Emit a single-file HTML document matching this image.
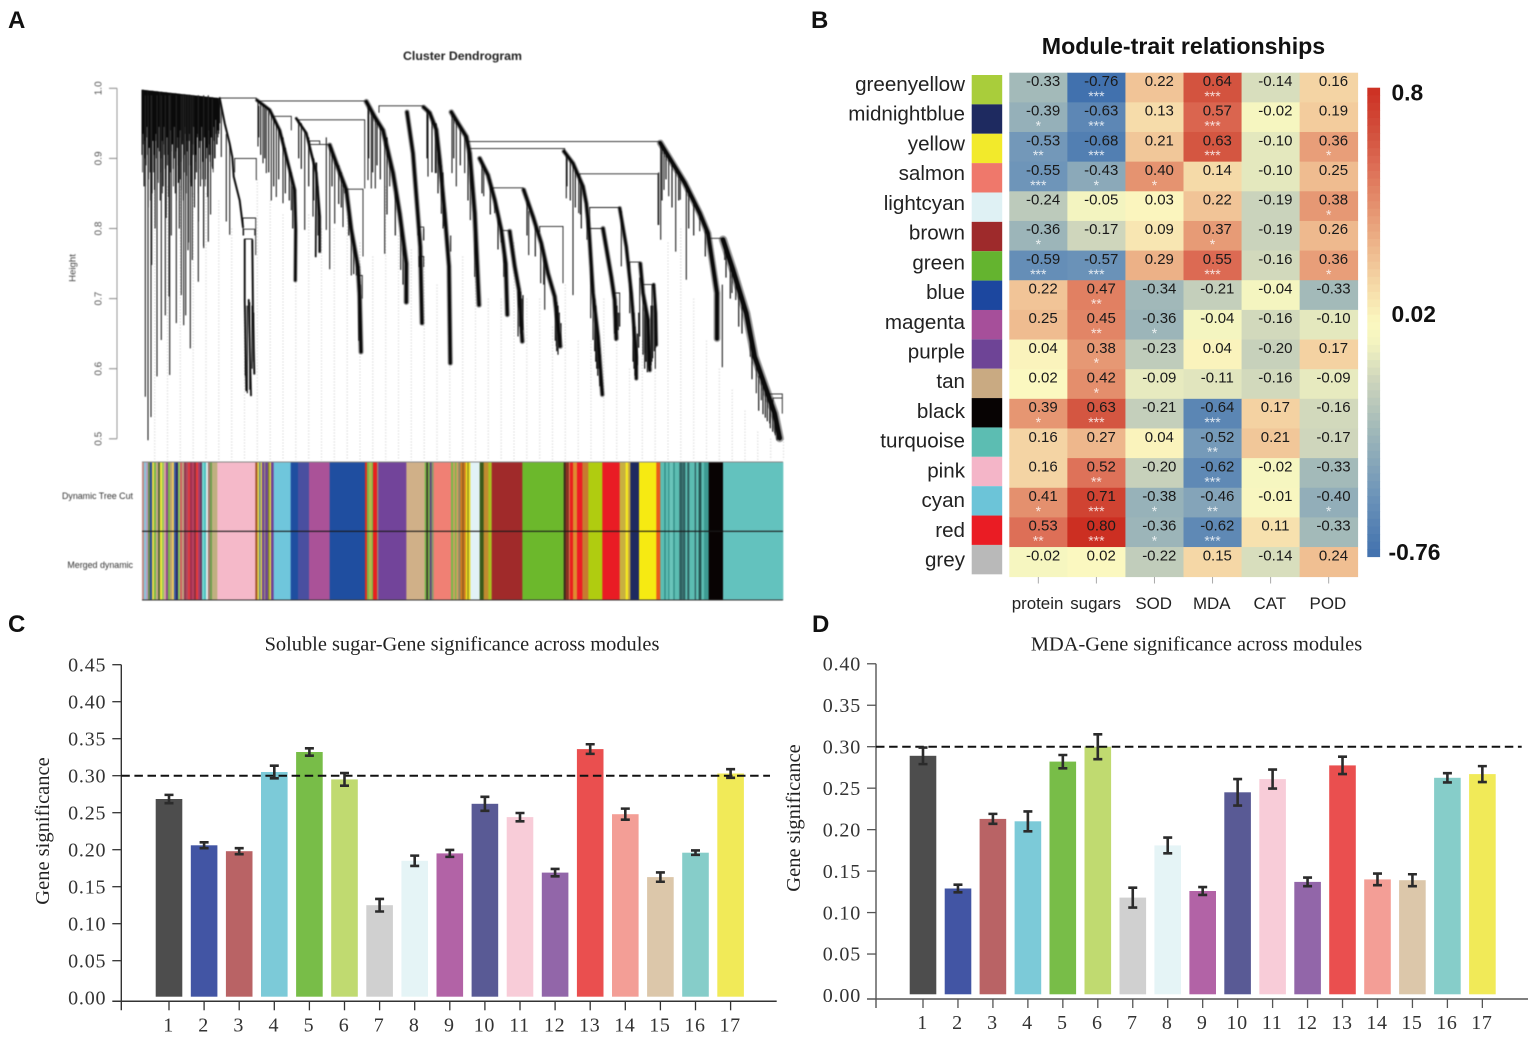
<!DOCTYPE html>
<html lang="en">
<head>
<meta charset="utf-8">
<title>WGCNA module figure</title>
<style>
html,body{margin:0;padding:0;background:#fff;}
svg{display:block;}
.sans{font-family:"Liberation Sans",Arial,sans-serif;}
.serif{font-family:"Liberation Serif","Times New Roman",serif;}
#panelA{filter:blur(0.4px);}
</style>
</head>
<body>
<svg id="fig" xmlns="http://www.w3.org/2000/svg" width="1535" height="1038" viewBox="0 0 1535 1038">
  <rect x="0" y="0" width="1535" height="1038" fill="#fff"/>
  <g class="sans" font-weight="700" font-size="24" fill="#111">
    <text x="8" y="28">A</text>
    <text x="811" y="28">B</text>
    <text x="8" y="632">C</text>
    <text x="812" y="632">D</text>
  </g>
  <g id="panelA"></g>
  <g id="panelB"></g>
  <g id="panelC"></g>
  <g id="panelD"></g>
</svg>
<script>
/* ---------- Panel A data: leaf index 0..1923, height in thousandths ---------- */
const dendroHeightTicks = ["0.5","0.6","0.7","0.8","0.9","1.0"];
const massTop = [998, 986];
const massBottoms = [905,935,860,925,890,945,830,915,880,940,850,925,905,800,935,870,915,945,840,900,925,860,945,885,815,930,905,870,940,790,920,885,945,850,910,930,865,800,940,895,920,840,905,945,875,925,780,935,890,860,920,945,830,905,880,935,810,925,860,945,895,775,930,870,915,845,940,905,820,930,885,945,900,955,920,940,935,950];
const massDeepBottoms = [880,920,900,860,930,905,870,925,840,910,935,880,855,925,900,930,865,910,880,935,850,920,905,870,930,890,845,925,880,910,935,860,900,925,840,915,890,930,870,855,925,900,880,935,850,910,890,925,865,930,845,905,920,870,895,930,850,915,885,925,870,905,935,860,900,925,880,920,895,930,905,880,925,900,935,920,930,940];
const strandWidths = [1.5,1.4,1.4,1.5,2.4,2,1.3,3,3.2,3,3,3.2,3,3,3,2.8,3,2.6,2.8,2.4,3.8,4.6];
const strandPoints = [
 [233,986,248,950,263,921,271,902,275,874,293,840,303,802],
 [308,784,308,698,313,569],
 [320,698,327,562],
 [331,783,333,679,337,593],
 [345,983,383,969,413,940,438,893,458,855,461,798,460,726],
 [463,957,493,936,508,907,523,879,533,817,533,767],
 [523,893,521,760],
 [563,919,583,893,613,855,628,798,648,745,653,703,657,624],
 [673,981,698,959,723,940,753,879,773,821,793,750,793,695],
 [795,966,813,907,828,817,835,774,840,665],
 [845,973,863,965,883,941,893,898,908,822,921,746,925,608],
 [928,966,948,950,973,931,983,907,998,822,1011,691],
 [1013,900,1038,876,1058,841,1078,798,1091,750,1096,677],
 [1103,796,1118,746,1131,712,1141,639],
 [1145,855,1173,817,1198,779,1218,736,1238,703,1255,632],
 [1266,910,1293,893,1323,860,1333,836,1341,798,1353,708,1368,646,1381,563],
 [1383,800,1408,731,1418,698,1423,643],
 [1433,829,1453,774,1468,708,1483,617,1483,586],
 [1495,750,1503,708,1518,670,1523,598],
 [1535,720,1541,679,1543,634],
 [1555,922,1583,900,1628,865,1673,822,1698,793,1713,746,1725,708,1725,643],
 [1743,784,1773,741,1813,679,1838,617,1873,570,1898,536,1913,501]
];
const dripLeaves = [10,18,27,29,45,58,70,83,81,103,118,125,131,145,169,151,185,199,138,211,238,263,253,348,363,373,388,403,423,448,488,513,563,553,578,603,628,643,678,688,700,728,743,776,845,858,883,898,903,880,905,926,930,943,968,985,998,1025,1058,1085,1128,1160,1196,1208,1243,1273,1293,1310,1335,1346,1353,1375,1438,1463,1493,1508,1518,1550,1556,1566,1580,1601,1615,1633,1673,1741,1748,1770,1781,1825,1843,1858,1883,1898,1908,1315,1530,1540];
const dripTops = [990,990,990,990,990,990,990,990,990,990,990,990,990,990,990,990,990,990,990,985,975,921,935,980,975,970,962,950,930,880,940,900,919,930,900,870,790,760,975,965,955,935,900,815,800,970,950,890,880,950,850,790,965,955,935,905,820,885,840,770,715,825,780,760,690,905,893,870,830,760,710,620,825,730,730,700,660,880,920,912,900,885,875,860,822,720,770,745,730,645,610,590,555,535,510,870,720,700];
const dripBottoms = [560,498,531,748,589,641,676,591,703,665,705,662,676,629,724,755,772,781,769,888,902,791,810,917,893,879,840,845,836,826,798,817,742,798,807,802,733,733,869,857,857,764,860,741,783,874,879,821,800,879,803,767,879,860,879,812,731,846,822,731,646,762,722,684,632,843,705,822,784,672,641,584,746,679,646,622,603,805,784,855,846,767,841,727,796,602,755,708,698,617,565,555,522,508,503,820,610,600];
const fuzzLeaves = [1133,1136,1139,1143,1240,1244,1248,1252,1257,1358,1361,1364,1367,1370,1373,1418,1421,1425,1429,1433,1473,1476,1479,1486,1490,1503,1508,1512,1516,1520,1527,1532,1537,1541,1863,1870,1876,1885,1892,1900,1905,1912,310,316,323,330,335,650,655,350,356,368,380,395,410,430,442,452,470,478,500,515,528,570,590,598,620,635,680,692,705,715,735,760,783,855,870,888,935,955,978,1020,1045,1068,1155,1180,1205,1275,1285,1300,1318,1560,1572,1590,1610,1640,1655,1690,1752,1765,1790,1800,1830,1850];
const fuzzTops = [715,710,700,705,700,695,690,680,665,700,690,670,650,640,630,700,695,690,680,680,690,680,660,650,680,705,690,680,675,670,690,690,700,690,580,570,565,555,548,535,525,515,690,690,695,690,680,730,720,975,975,972,968,955,942,915,885,860,955,950,930,900,860,915,890,880,835,780,978,965,955,945,930,860,790,970,960,930,960,945,925,895,870,820,845,810,770,905,898,885,865,918,910,895,880,855,840,800,770,750,715,695,630,590];
const fuzzBottoms = [660,650,645,655,640,625,620,630,635,625,610,600,590,600,575,650,640,645,655,660,610,600,590,605,630,620,600,610,595,600,605,615,625,630,535,530,525,515,510,505,498,500,590,565,570,600,610,640,630,930,905,900,880,860,870,850,840,800,900,885,860,840,790,860,835,830,790,735,900,880,890,870,820,790,720,900,880,850,900,890,840,850,820,770,790,760,720,860,840,830,800,840,870,830,840,800,790,760,730,700,660,650,585,540];
const mergeLeft = [233,355,711,468,608,278,396,503,503,303,308,305,648,828,831,978,983,1313,1343,1343,1053,1193,1078,1698,1463,1503,1883,1893,1418];
const mergeRight = [343,673,843,668,663,343,448,563,533,341,331,338,661,845,845,1555,1268,1548,1433,1383,1143,1263,1103,1743,1493,1535,1921,1921,1433];
const mergeHeights = [986,982,975,955,856,900,960,920,925,815,785,799,733,802,760,924,914,878,830,800,858,803,797,786,752,720,564,558,708];
const mergeLeftBottoms = [986,975,965,950,850,880,950,912,920,790,784,790,725,790,745,918,905,865,790,780,850,795,780,780,740,705,555,550,690];
const mergeRightBottoms = [984,981,973,857,760,869,940,919,920,762,783,790,700,783,745,922,910,805,829,800,855,722,796,784,750,720,536,540,680];
const guideTops = [870,860,860,850,850,840,800,760,870,840,820,800,820,800,800,820,780,760,860,790,770,760,720,740,760,780,700,700,780,700,700,660,720,640,640,700,640,600,640,720,780,800,700,640,600,570,540,510,500,500];
const segmentColors = ["#c08a85","#8ac6dc","#b79fc0","#6a8a4a","#2a4a9a","#e8d84a","#7ab84a","#c9a98a","#5a6a3a","#f0e83a","#9ac85a","#d8a0a0","#8a4a8a","#78b84a","#c0a070","#e8c860","#3a5aa0","#2a2a6a","#8ac860","#d06060","#c0a080","#903a50","#b04a60","#e03a40","#a03050","#b84060","#903040","#e83a3a","#a84070","#6a3a60","#70d8d0","#50c0c0","#e0e8e8","#a07a70","#70a050","#c0b080",
 "#f5b9c9",
 "#a0522d","#e8d84a","#6a8a8a","#e8d84a","#6e4496","#9a8a7a","#6e4496","#8a8a2a","#e8d84a","#6e4496",
 "#6fc6dc","#1f4ea0","#4a4fa0","#aa5298","#1f4ea0",
 "#e0301e","#7ab84a","#b8b84a","#7ab84a","#e8201e","#9a8a7a",
 "#72449a","#d0b088",
 "#7ab84a","#3a3a2a","#7ab84a","#5a4a7a","#8a9a6a",
 "#f08074",
 "#7ab84a","#c9a060","#7ab84a","#d0a060","#8a8a6a","#d07a20","#8a5a20","#d07a20","#e8d820","#4a4a1a","#e8d820",
 "#e2f2f6","#3a5a1a","#c08a30","#a8c020",
 "#a02a2a","#6cb82c",
 "#3a2a1a","#8a3020","#e0a070","#e8201e","#e08a30","#ee1c24","#c87a30",
 "#b0cc10","#e91c24",
 "#c8b040","#f6ea20","#c8a840",
 "#1e2a60","#f6ea12","#ea5a1c",
 "#5cbdb2","#2f8a84","#5cbdb2","#2f8a84","#6ac4ba","#2f8a84","#5cbdb2","#2e5f60","#3d7573","#2e5f60","#5cbdb2","#2e5f60","#5cbdb2","#2e5f60","#5cbdb2","#23524f","#5cbdb2","#3d9a92",
 "#080303","#63c2be"];
const segmentLeaves = [6,6,6,6,6,6,6,6,6,6,6,6,6,6,6,6,6,6,6,6,6,6,6,6,6,6,6,6,6,6,6,6,6,6,6,16,
 114,
 6,5,5,4,6,4,8,5,4,8,
 51,22,33,62,106,
 6,6,8,4,12,4,
 84,55,
 5,5,5,6,6,
 52,
 6,6,4,6,6,6,4,6,6,2,6,
 28,12,14,10,
 92,124,
 6,10,2,10,12,16,18,
 42,52,
 18,7,7,
 26,52,12,
 12,4,8,3,12,4,14,8,4,6,6,6,16,4,8,8,8,14,
 43,180];

/* ---------- Panel B data ---------- */
const moduleNames = ["greenyellow","midnightblue","yellow","salmon","lightcyan","brown","green","blue","magenta","purple","tan","black","turquoise","pink","cyan","red","grey"];
const traitNames = ["protein","sugars","SOD","MDA","CAT","POD"];
const moduleSwatches = ["#a9cd3b","#1e2a60","#f2ea2b","#ef786b","#dff1f4","#9e2a2b","#64b42f","#1c479f","#a64f9a","#6e4496","#c9aa82","#070303","#5cbdb2","#f4b5c8","#6cc4d8","#ea1c24","#b9b9b9"];
const correlations = [
 [-0.33,-0.76,0.22,0.64,-0.14,0.16],
 [-0.39,-0.63,0.13,0.57,-0.02,0.19],
 [-0.53,-0.68,0.21,0.63,-0.10,0.36],
 [-0.55,-0.43,0.40,0.14,-0.10,0.25],
 [-0.24,-0.05,0.03,0.22,-0.19,0.38],
 [-0.36,-0.17,0.09,0.37,-0.19,0.26],
 [-0.59,-0.57,0.29,0.55,-0.16,0.36],
 [0.22,0.47,-0.34,-0.21,-0.04,-0.33],
 [0.25,0.45,-0.36,-0.04,-0.16,-0.10],
 [0.04,0.38,-0.23,0.04,-0.20,0.17],
 [0.02,0.42,-0.09,-0.11,-0.16,-0.09],
 [0.39,0.63,-0.21,-0.64,0.17,-0.16],
 [0.16,0.27,0.04,-0.52,0.21,-0.17],
 [0.16,0.52,-0.20,-0.62,-0.02,-0.33],
 [0.41,0.71,-0.38,-0.46,-0.01,-0.40],
 [0.53,0.80,-0.36,-0.62,0.11,-0.33],
 [-0.02,0.02,-0.22,0.15,-0.14,0.24]
];
const significance = [
 ["","***","","***","",""],
 ["*","***","","***","",""],
 ["**","***","","***","","*"],
 ["***","*","*","","",""],
 ["","","","","","*"],
 ["*","","","*","",""],
 ["***","***","","***","","*"],
 ["","**","","","",""],
 ["","**","*","","",""],
 ["","*","","","",""],
 ["","*","","","",""],
 ["*","***","","***","",""],
 ["","","","**","",""],
 ["","**","","***","",""],
 ["*","***","*","**","","*"],
 ["**","***","*","***","",""],
 ["","","","","",""]
];
const heatStopValues = [-0.76,-0.55,-0.33,-0.17,-0.05,0.02,0.15,0.25,0.40,0.55,0.64,0.80];
const heatStopColors = ["#4171ae","#6e95b9","#a3bab9","#cfd6bc","#f3f4c0","#fbf8c0","#f5d7a6","#efbc90","#e59370","#dc6a53","#d3533f","#cc2f22"];
const legendLabels = ["0.8","0.02","-0.76"];

/* ---------- Panels C and D data ---------- */
const moduleNumbers = ["1","2","3","4","5","6","7","8","9","10","11","12","13","14","15","16","17"];
const sugarValues = [0.2685,0.206,0.198,0.305,0.332,0.295,0.125,0.185,0.195,0.262,0.244,0.169,0.336,0.248,0.163,0.196,0.303];
const sugarErrors = [0.0056,0.004,0.004,0.0085,0.005,0.0085,0.0085,0.007,0.0047,0.0095,0.0056,0.005,0.0065,0.0075,0.0063,0.003,0.0058];
const sugarTicks = ["0.00","0.05","0.10","0.15","0.20","0.25","0.30","0.35","0.40","0.45"];
const mdaValues = [0.289,0.129,0.213,0.21,0.282,0.30,0.118,0.181,0.126,0.245,0.261,0.137,0.2775,0.14,0.139,0.2625,0.267];
const mdaErrors = [0.01,0.0046,0.006,0.012,0.008,0.015,0.012,0.0095,0.0047,0.016,0.0115,0.0052,0.0105,0.007,0.0072,0.0056,0.0096];
const mdaTicks = ["0.00","0.05","0.10","0.15","0.20","0.25","0.30","0.35","0.40"];
const threshold = 0.30;
const barColors = ["#4d4d4d","#4255a4","#b96365","#7ccad8","#78bd48","#c0da70","#d0d0d0","#e5f4f6","#b263a6","#595a95","#f8ccd8","#9266a9","#ea4f4f","#f39e96","#dcc7aa","#86cdc9","#f1ea58"];

/* ---------- helpers ---------- */
const NS = "http://www.w3.org/2000/svg";
function mk(parent, tag, attrs, txt) {
  const el = document.createElementNS(NS, tag);
  for (const k in attrs) el.setAttribute(k, attrs[k]);
  if (txt !== undefined) el.textContent = txt;
  parent.appendChild(el);
  return el;
}

/* ---------- Panel A ---------- */
(function () {
  const g = document.getElementById("panelA");
  const X = leaf => 142 + leaf / 3;
  const Y = m => 88.3 + (1000 - m) * 0.701;

  const title = mk(g, "text", {x: 462.5, y: 60, "text-anchor": "middle", "font-size": 12.3, "font-weight": 700, class: "sans", fill: "#222"}, "Cluster Dendrogram");
  
  

  const axis = mk(g, "line", {x1: 117, x2: 117, y1: Y(1000), y2: Y(500), stroke: "#999", "stroke-width": 1});
  
  
  dendroHeightTicks.forEach(t => {
    const m = parseFloat(t) * 1000;
    const tick = mk(g, "line", {x1: 109, x2: 117, y1: Y(m), y2: Y(m), stroke: "#888", "stroke-width": 1});
    
    
    const lab = mk(g, "text", {x: 0, y: 0, transform: `translate(101.5 ${Y(m)}) rotate(-90)`, "text-anchor": "middle", "font-size": 10, class: "sans", fill: "#555"}, t);
    
    
  });
  const hl = mk(g, "text", {x: 0, y: 0, transform: "translate(75.5 268) rotate(-90)", "text-anchor": "middle", "font-size": 9.6, class: "sans", fill: "#444"}, "Height");
  
  

  let d = "";
  guideTops.forEach((m, i) => {
    const x = X(38 + 38.5 * i);
    d += `M${x.toFixed(1)} ${Y(m).toFixed(1)}V460`;
  });
  const guides = mk(g, "path", {d: d, stroke: "#d4d4d4", "stroke-width": 1.3, "stroke-dasharray": "1 2", fill: "none"});
  
  

  d = "";
  massDeepBottoms.forEach((m, i) => {
    const f = (i + 0.5) / massDeepBottoms.length;
    const leaf = f * 233;
    const top = massTop[0] + (massTop[1] - massTop[0]) * f;
    d += `M${X(leaf).toFixed(1)} ${Y(top).toFixed(1)}V${Y(m).toFixed(1)}`;
  });
  const massDeep = mk(g, "path", {d: d, stroke: "#2a2a2a", "stroke-width": 0.8, fill: "none"});
  
  

  d = "";
  massBottoms.forEach((m, i) => {
    const f = i / (massBottoms.length - 1);
    const leaf = f * 233;
    const top = massTop[0] + (massTop[1] - massTop[0]) * f;
    d += `M${X(leaf).toFixed(1)} ${Y(top).toFixed(1)}V${Y(m).toFixed(1)}`;
  });
  const mass = mk(g, "path", {d: d, stroke: "#0a0a0a", "stroke-width": 1, fill: "none"});
  
  

  d = "";
  dripLeaves.forEach((leaf, i) => {
    d += `M${X(leaf).toFixed(1)} ${Y(dripTops[i]).toFixed(1)}V${Y(dripBottoms[i]).toFixed(1)}`;
  });
  const drips = mk(g, "path", {d: d, stroke: "#222", "stroke-width": 1.1, fill: "none"});
  
  

  d = "";
  fuzzLeaves.forEach((leaf, i) => {
    d += `M${X(leaf).toFixed(1)} ${Y(fuzzTops[i]).toFixed(1)}V${Y(fuzzBottoms[i]).toFixed(1)}`;
  });
  const fuzz = mk(g, "path", {d: d, stroke: "#1a1a1a", "stroke-width": 1.2, fill: "none"});
  
  

  d = "";
  mergeLeft.forEach((l, i) => {
    d += `M${X(l).toFixed(1)} ${Y(mergeLeftBottoms[i]).toFixed(1)}V${Y(mergeHeights[i]).toFixed(1)}H${X(mergeRight[i]).toFixed(1)}V${Y(mergeRightBottoms[i]).toFixed(1)}`;
  });
  const merges = mk(g, "path", {d: d, stroke: "#222", "stroke-width": 0.9, fill: "none"});
  
  

  strandPoints.forEach((pts, i) => {
    let s = "";
    for (let k = 0; k < pts.length; k += 2) s += (k ? "L" : "M") + X(pts[k]).toFixed(1) + " " + Y(pts[k + 1]).toFixed(1);
    const halo = mk(g, "path", {d: s, stroke: "#333", "stroke-opacity": 0.5, "stroke-width": strandWidths[i] * 1.8, fill: "none", "stroke-linejoin": "round", "stroke-linecap": "round"});
    
    
    const st = mk(g, "path", {d: s, stroke: "#0a0a0a", "stroke-width": strandWidths[i], fill: "none", "stroke-linejoin": "round", "stroke-linecap": "round"});
    
    
  });

  const bars = mk(g, "g", {});
  
  
  let total = 0;
  segmentLeaves.forEach(w => { total += w; });
  const scale = 1923 / total;
  let cum = 0;
  segmentLeaves.forEach((w, i) => {
    const seg = mk(bars, "rect", {x: X(cum * scale).toFixed(2), y: 462, width: (w * scale / 3 + 0.3).toFixed(2), height: 138, fill: segmentColors[i]});
    
    
    cum += w;
  });
  const topLine = mk(g, "line", {x1: 142, x2: 783, y1: 462, y2: 462, stroke: "#888", "stroke-width": 1});
  
  
  const midLine = mk(g, "line", {x1: 142, x2: 783, y1: 531.3, y2: 531.3, stroke: "#1a1a1a", "stroke-width": 1.2});
  
  
  const botLine = mk(g, "line", {x1: 142, x2: 783, y1: 600, y2: 600, stroke: "#333", "stroke-width": 1});
  
  
  const l1 = mk(g, "text", {x: 133, y: 499, "text-anchor": "end", "font-size": 8.9, class: "sans", fill: "#333"}, "Dynamic Tree Cut");
  
  
  const l2 = mk(g, "text", {x: 133, y: 568, "text-anchor": "end", "font-size": 8.9, class: "sans", fill: "#333"}, "Merged dynamic");
  
  
})();

/* ---------- Panel B ---------- */
function heatColor(v) {
  const vs = heatStopValues;
  if (v <= vs[0]) return heatStopColors[0];
  for (let i = 1; i < vs.length; i++) {
    if (v <= vs[i]) {
      const f = (v - vs[i - 1]) / (vs[i] - vs[i - 1]);
      const a = parseInt(heatStopColors[i - 1].slice(1), 16), b = parseInt(heatStopColors[i].slice(1), 16);
      const c = s => Math.round(((a >> s) & 255) + (((b >> s) & 255) - ((a >> s) & 255)) * f);
      return `rgb(${c(16)},${c(8)},${c(0)})`;
    }
  }
  return heatStopColors[heatStopColors.length - 1];
}
(function () {
  const g = document.getElementById("panelB");
  const cellW = 348.4 / traitNames.length, cellH = 504 / moduleNames.length;
  const X = c => 1009.3 + c * cellW;
  const Y = r => 72.7 + r * cellH;

  const title = mk(g, "text", {x: 1183.5, y: 54, "text-anchor": "middle", "font-size": 23.2, "font-weight": 700, class: "sans", fill: "#111"}, "Module-trait relationships");
  
  

  moduleNames.forEach((name, r) => {
    const sw = mk(g, "rect", {x: 971.7, y: 75 + r * 29.37, width: 30.5, height: 29.4, fill: moduleSwatches[r]});
    
    
    const lab = mk(g, "text", {x: 965, y: (91 + r * 29.72).toFixed(1), "text-anchor": "end", "font-size": 20.6, class: "sans", fill: "#222"}, name);
    
    
  });

  correlations.forEach((row, r) => {
    row.forEach((v, c) => {
      const cell = mk(g, "rect", {x: X(c).toFixed(2), y: Y(r).toFixed(2), width: (cellW + 0.4).toFixed(2), height: (cellH + 0.4).toFixed(2), fill: heatColor(v)});
      
      
    });
  });
  correlations.forEach((row, r) => {
    row.forEach((v, c) => {
      const t = mk(g, "text", {x: (X(c) + cellW / 2 + 4.8).toFixed(1), y: (Y(r) + 13.3).toFixed(1), "text-anchor": "middle", "font-size": 15, class: "sans", fill: "#1a1a1a"}, v.toFixed(2));
      
      
      const stars = significance[r][c];
      if (stars) {
        const s = mk(g, "text", {x: (X(c) + cellW / 2).toFixed(1), y: (Y(r) + 28.2).toFixed(1), "text-anchor": "middle", "font-size": 14, class: "sans", fill: "#fff", "fill-opacity": 0.8}, stars);
        
        
      }
    });
  });

  traitNames.forEach((name, c) => {
    const cx = X(c) + cellW / 2;
    const tick = mk(g, "line", {x1: cx, x2: cx, y1: 577, y2: 583.5, stroke: "#aaa", "stroke-width": 1});
    
    
    const lab = mk(g, "text", {x: cx - 0.8, y: 609, "text-anchor": "middle", "font-size": 16.9, class: "sans", fill: "#222"}, name);
    
    
  });

  const vMin = -0.76, vMax = 0.8, barTop = 87.7, barBottom = 556.7, steps = 62;
  const ramp = mk(g, "g", {});
  
  
  for (let i = 0; i < steps; i++) {
    const v = vMax - (vMax - vMin) * (i + 0.5) / steps;
    const h = (barBottom - barTop) / steps;
    const st = mk(ramp, "rect", {x: 1367.3, y: (barTop + i * h).toFixed(2), width: 12.8, height: (h + 0.4).toFixed(2), fill: heatColor(v)});
    
    
  }
  const lx = [1391.5, 1391.5, 1388.5];
  const ly = [100.5, 322, 560];
  legendLabels.forEach((t, i) => {
    const lab = mk(g, "text", {x: lx[i], y: ly[i], "font-size": 22.8, "font-weight": 700, class: "sans", fill: "#111"}, t);
    
    
  });
})();

/* ---------- Panels C, D ---------- */
function drawBars(g, o) {
  const Y = v => o.zeroY - v * o.pxPerUnit;
  const X = i => o.firstX + i * o.stepX;

  const title = mk(g, "text", {x: o.titleX, y: 650.5, "text-anchor": "middle", "font-size": 20.4, class: "serif", fill: "#222"}, o.title);
  
  
  const yt = mk(g, "text", {x: 0, y: 0, transform: `translate(${o.yTitleX} ${o.yTitleY}) rotate(-90)`, "text-anchor": "middle", "font-size": 20.5, class: "serif", fill: "#222"}, "Gene significance");
  
  

  o.values.forEach((v, i) => {
    const bar = mk(g, "rect", {x: (X(i) - 13.3).toFixed(1), y: Y(v).toFixed(1), width: 26.6, height: (o.barBase - Y(v)).toFixed(1), fill: barColors[i]});
    
    
  });

  const yAxis = mk(g, "line", {x1: o.axisX, x2: o.axisX, y1: Y(parseFloat(o.ticks[o.ticks.length - 1])), y2: o.axisY + 9, stroke: o.axisColor, "stroke-width": 1.4});
  
  
  const xAxis = mk(g, "line", {x1: o.axisX - 9, x2: o.axisEnd, y1: o.axisY, y2: o.axisY, stroke: o.axisColor, "stroke-width": 1.5});
  
  

  o.ticks.forEach(t => {
    const v = parseFloat(t);
    if (v > 0) {
      const tick = mk(g, "line", {x1: o.axisX - 9, x2: o.axisX, y1: Y(v), y2: Y(v), stroke: o.axisColor, "stroke-width": 1.3});
      
      
    }
    const lab = mk(g, "text", {x: o.axisX - 15, y: (Y(v) + 6.7).toFixed(1), "text-anchor": "end", "font-size": 20, "letter-spacing": 0.8, class: "serif", fill: "#333"}, t);
    
    
  });

  moduleNumbers.forEach((n, i) => {
    const tick = mk(g, "line", {x1: X(i), x2: X(i), y1: o.axisY, y2: o.axisY + 9, stroke: o.axisColor, "stroke-width": 1.3});
    
    
    const lab = mk(g, "text", {x: X(i) - 0.5, y: o.axisY + 30, "text-anchor": "middle", "font-size": 20, "letter-spacing": 0.6, class: "serif", fill: "#333"}, n);
    
    
  });

  const dash = mk(g, "line", {x1: o.axisX, x2: o.dashEnd, y1: Y(threshold), y2: Y(threshold), stroke: "#111", "stroke-width": 2, "stroke-dasharray": "8.5 4.6"});
  
  

  o.values.forEach((v, i) => {
    const hi = Y(v + o.errors[i]), lo = Y(v - o.errors[i]), x = X(i);
    const err = mk(g, "path", {d: `M${x - 4.5} ${hi}H${x + 4.5}M${x} ${hi}V${lo}M${x - 4.5} ${lo}H${x + 4.5}`, stroke: "#2b2b2b", "stroke-width": 2.6, fill: "none"});
    
    
  });
}
drawBars(document.getElementById("panelC"), {
  title: "Soluble sugar-Gene significance across modules", titleX: 462,
  values: sugarValues, errors: sugarErrors, ticks: sugarTicks,
  zeroY: 997.7, pxPerUnit: 740, barBase: 996.7, firstX: 169, stepX: 35.1,
  axisX: 121.3, axisY: 1001.3, axisEnd: 776.7, dashEnd: 770, axisColor: "#333",
  yTitleX: 49, yTitleY: 831
});
drawBars(document.getElementById("panelD"), {
  title: "MDA-Gene significance across modules", titleX: 1196.5,
  values: mdaValues, errors: mdaErrors, ticks: mdaTicks,
  zeroY: 995.5, pxPerUnit: 829.3, barBase: 994.3, firstX: 923, stepX: 34.96,
  axisX: 876, axisY: 999, axisEnd: 1528, dashEnd: 1521.7, axisColor: "#555",
  yTitleX: 800, yTitleY: 818
});
</script>
</body>
</html>
